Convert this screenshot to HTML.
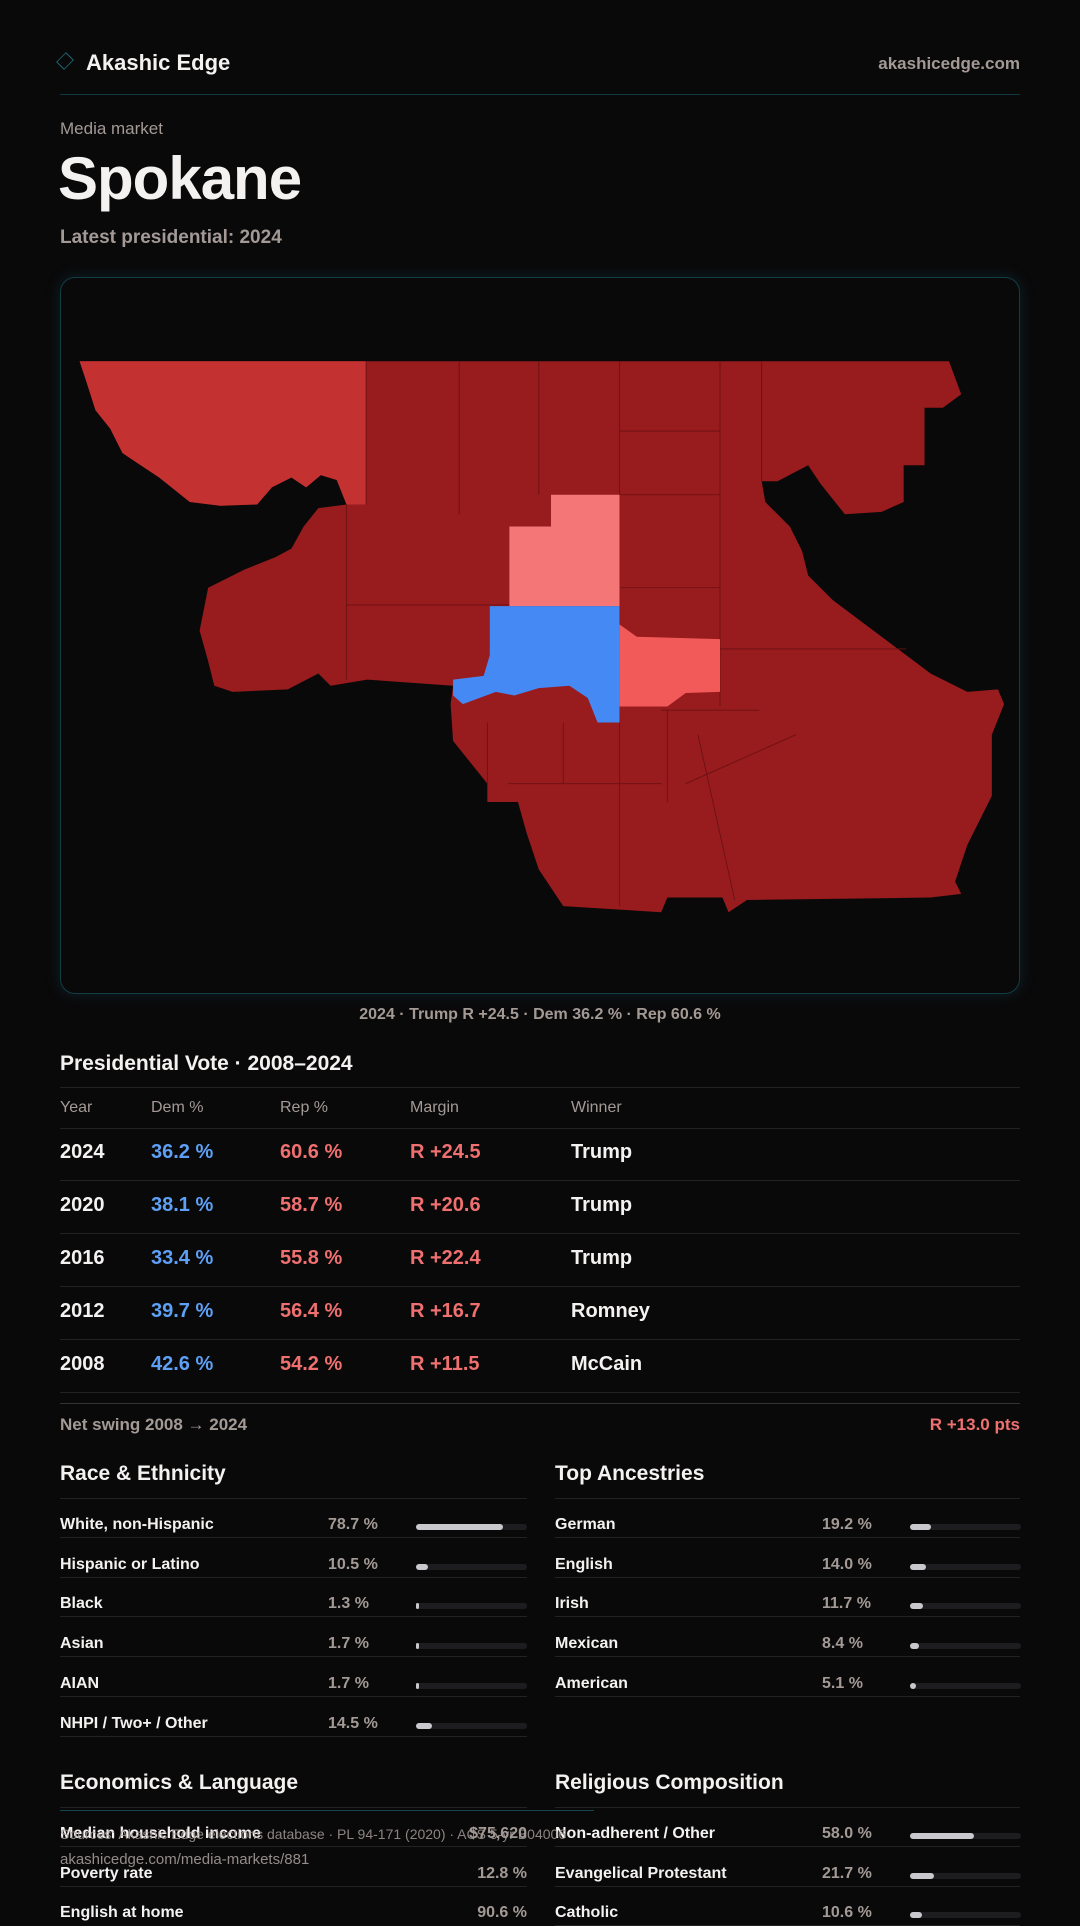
<!DOCTYPE html>
<html><head><meta charset="utf-8"><style>
*{margin:0;padding:0;box-sizing:border-box}
body{width:1080px;height:1920px;background:#0a090a;font-family:"Liberation Sans",sans-serif;color:#f4f2f0;position:relative;overflow:hidden}
.a{position:absolute;white-space:nowrap}
.g{color:#a39a96}
.ln{position:absolute;height:1px;background:#222}
.b{font-weight:bold}
.tr{position:absolute;height:6px;border-radius:3px;background:#1d1d1f;width:111px}
.tr i{display:block;height:6px;border-radius:3px;background:#c9c9cd}
</style></head><body>
<div class="a" style="left:58px;top:54px;width:14px;height:14px;border:1.5px solid #1b6b78;transform:rotate(45deg) scale(.8,1)"></div>
<div class="a b" style="left:86px;top:50px;font-size:22px">Akashic Edge</div>
<div class="a b g" style="right:60px;top:54px;font-size:17px">akashicedge.com</div>
<div class="ln" style="left:60px;width:960px;top:94px;background:#123a42"></div>
<div class="a g" style="left:60px;top:119px;font-size:17px">Media market</div>
<div class="a b" style="left:58px;top:144px;font-size:60px;letter-spacing:-1px">Spokane</div>
<div class="a b g" style="left:60px;top:227px;font-size:19px">Latest presidential: 2024</div>
<div class="a" style="left:60px;top:277px;width:960px;height:717px;border:1px solid #123d45;border-radius:15px;box-shadow:0 0 14px rgba(20,90,110,.3)"></div>
<svg class="a" style="left:0;top:0" width="1080" height="1920" viewBox="0 0 882 1568">
<path fill="#981b1d" d="M65,295 L775,295 785,322 770,333 755,333 755,380 738,380 738,410 720,418 690,420 670,395 660,380 635,393 622,393 625,410 635,420 645,430 655,450 660,470 680,490 720,520 760,550 790,565 815,563 820,575 810,600 810,650 790,690 780,720 785,730 760,733 610,735 595,745 590,733 545,733 540,745 460,740 440,710 430,680 423,655 398,655 398,640 370,605 368,575 370,560 300,555 270,560 260,550 235,563 190,565 175,560 170,540 163,515 170,480 200,465 225,455 238,448 248,430 260,415 283,412 275,392 262,388 250,398 238,390 222,398 210,412 180,413 155,410 130,390 100,370 90,350 78,335 70,310Z"/>
<path fill="#c43131" d="M65,295 L299,295 299,412 283,412 275,392 262,388 250,398 238,390 222,398 210,412 180,413 155,410 130,390 100,370 90,350 78,335 70,310Z"/>
<g stroke="#6a1113" stroke-width=".7" fill="none"><path d="M283,412 L283,555 M283,494 L416,494 M299,295 L299,412 M375,295 L375,420 M440,295 L440,404 M506,295 L506,740 M506,352 L588,352 M588,295 L588,404 L506,404 M588,404 L588,577 M588,530 L740,530 M622,295 L622,393 M506,480 L588,480 M415,640 L540,640 M540,580 L620,580 M460,590 L460,640 M545,580 L545,655 M570,600 L600,735 M650,600 L560,640 M398,590 L398,640"/></g>
<path fill="#f47676" d="M450,404 L506,404 506,495 416,495 416,430 450,430Z"/>
<path fill="#4589f4" d="M400,495 L506,495 506,590 488,590 480,570 465,560 440,562 420,568 405,565 378,575 370,568 370,555 395,552 400,535Z"/>
<path fill="#f25a5a" d="M506,510 L520,520 588,522 588,565 560,566 545,577 506,577Z"/>
</svg>
<div class="a b g" style="left:0;width:1080px;text-align:center;top:1006px;font-size:16px">2024 · Trump R +24.5 · Dem 36.2 % · Rep 60.6 %</div>
<div class="a b" style="left:60px;top:1052px;font-size:21px">Presidential Vote · 2008–2024</div>
<div class="ln" style="left:60px;width:960px;top:1087px"></div>
<div class="a g" style="left:60px;top:1099px;font-size:16px">Year</div>
<div class="a g" style="left:151px;top:1099px;font-size:16px">Dem %</div>
<div class="a g" style="left:280px;top:1099px;font-size:16px">Rep %</div>
<div class="a g" style="left:410px;top:1099px;font-size:16px">Margin</div>
<div class="a g" style="left:571px;top:1099px;font-size:16px">Winner</div>
<div class="ln" style="left:60px;width:960px;top:1128px"></div>
<div style="position:absolute;left:60px;top:1128px;width:960px;font-size:20px" class="b">
<div style="position:relative;height:53px;border-bottom:1px solid #222"><span class="a" style="left:0;top:13px">2024</span><span class="a" style="left:91px;top:13px;color:#5da0f5">36.2 %</span><span class="a" style="left:220px;top:13px;color:#f07070">60.6 %</span><span class="a" style="left:350px;top:13px;color:#f07070">R +24.5</span><span class="a" style="left:511px;top:13px">Trump</span></div>
<div style="position:relative;height:53px;border-bottom:1px solid #222"><span class="a" style="left:0;top:13px">2020</span><span class="a" style="left:91px;top:13px;color:#5da0f5">38.1 %</span><span class="a" style="left:220px;top:13px;color:#f07070">58.7 %</span><span class="a" style="left:350px;top:13px;color:#f07070">R +20.6</span><span class="a" style="left:511px;top:13px">Trump</span></div>
<div style="position:relative;height:53px;border-bottom:1px solid #222"><span class="a" style="left:0;top:13px">2016</span><span class="a" style="left:91px;top:13px;color:#5da0f5">33.4 %</span><span class="a" style="left:220px;top:13px;color:#f07070">55.8 %</span><span class="a" style="left:350px;top:13px;color:#f07070">R +22.4</span><span class="a" style="left:511px;top:13px">Trump</span></div>
<div style="position:relative;height:53px;border-bottom:1px solid #222"><span class="a" style="left:0;top:13px">2012</span><span class="a" style="left:91px;top:13px;color:#5da0f5">39.7 %</span><span class="a" style="left:220px;top:13px;color:#f07070">56.4 %</span><span class="a" style="left:350px;top:13px;color:#f07070">R +16.7</span><span class="a" style="left:511px;top:13px">Romney</span></div>
<div style="position:relative;height:53px;border-bottom:1px solid #222"><span class="a" style="left:0;top:13px">2008</span><span class="a" style="left:91px;top:13px;color:#5da0f5">42.6 %</span><span class="a" style="left:220px;top:13px;color:#f07070">54.2 %</span><span class="a" style="left:350px;top:13px;color:#f07070">R +11.5</span><span class="a" style="left:511px;top:13px">McCain</span></div>
</div>
<div class="ln" style="left:60px;width:960px;top:1403px;background:#333"></div>
<div class="a b g" style="left:60px;top:1415px;font-size:17px">Net swing 2008 → 2024</div>
<div class="a b" style="right:60px;top:1415px;font-size:17px;color:#f07070">R +13.0 pts</div>
<div class="a b" style="left:60px;top:1462px;font-size:21px">Race &amp; Ethnicity</div>
<div class="a b" style="left:555px;top:1462px;font-size:21px">Top Ancestries</div>
<div class="ln" style="left:60px;width:467px;top:1498px"></div>
<div class="ln" style="left:555px;width:465px;top:1498px"></div>
<div id="L"></div>
<script>
function rows(x,w,pctx,barx,top,data){let h='';data.forEach((d,i)=>{let y=top+i*39.7;h+=`<div class="a b" style="left:${x}px;top:${y+18}px;font-size:16px">${d[0]}</div><div class="a b g" style="left:${pctx}px;top:${y+18}px;font-size:16px">${d[1]}</div>`;if(d[2]!=null)h+=`<div class="tr" style="left:${barx}px;top:${y+26}px"><i style="width:${Math.max(3,d[2]*1.11)}px"></i></div>`;h+=`<div class="ln" style="left:${x}px;width:${w}px;top:${y+39}px"></div>`});return h}
let s='';
s+=rows(60,467,328,416,1498,[["White, non-Hispanic","78.7 %",78.7],["Hispanic or Latino","10.5 %",10.5],["Black","1.3 %",1.3],["Asian","1.7 %",1.7],["AIAN","1.7 %",1.7],["NHPI / Two+ / Other","14.5 %",14.5]]);
s+=rows(555,465,822,910,1498,[["German","19.2 %",19.2],["English","14.0 %",14.0],["Irish","11.7 %",11.7],["Mexican","8.4 %",8.4],["American","5.1 %",5.1]]);
s+=rows(555,465,822,910,1807,[["Non-adherent / Other","58.0 %",58],["Evangelical Protestant","21.7 %",21.7],["Catholic","10.6 %",10.6]]);
document.getElementById('L').innerHTML=s;
</script>
<div class="a b" style="left:60px;top:1771px;font-size:21px">Economics &amp; Language</div>
<div class="a b" style="left:555px;top:1771px;font-size:21px">Religious Composition</div>
<div class="ln" style="left:60px;width:467px;top:1807px"></div>
<div class="ln" style="left:555px;width:465px;top:1807px"></div>
<div class="a b" style="left:60px;top:1825px;font-size:16px">Median household income</div><div class="a b g" style="right:553px;top:1825px;font-size:16px">$75,620</div>
<div class="ln" style="left:60px;width:467px;top:1846px"></div>
<div class="a b" style="left:60px;top:1865px;font-size:16px">Poverty rate</div><div class="a b g" style="right:553px;top:1865px;font-size:16px">12.8 %</div>
<div class="ln" style="left:60px;width:467px;top:1886px"></div>
<div class="a b" style="left:60px;top:1904px;font-size:16px">English at home</div><div class="a b g" style="right:553px;top:1904px;font-size:16px">90.6 %</div>
<div class="ln" style="left:60px;width:534px;top:1810px;background:#124550"></div>
<div class="a g" style="left:60px;top:1826px;font-size:14px;opacity:.85">Sources: Akashic Edge elections database · PL 94-171 (2020) · ACS 5-yr B04006</div>
<div class="a g" style="left:60px;top:1851px;font-size:15px;opacity:.9">akashicedge.com/media-markets/881</div>
</body></html>
